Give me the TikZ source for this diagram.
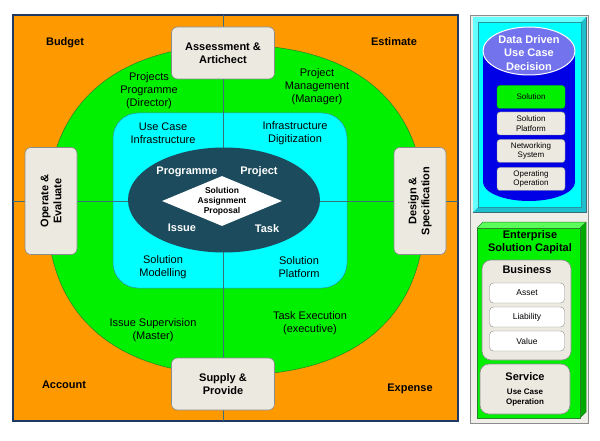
\documentclass[tikz,border=0pt]{standalone}
\usepackage{fontspec}
\setmainfont{Liberation Sans}
\usetikzlibrary{shapes.geometric}
\definecolor{orangebg}{RGB}{255,153,0}
\definecolor{greenbg}{RGB}{0,240,0}
\definecolor{greenline}{RGB}{40,130,40}
\definecolor{cyanbg}{RGB}{0,255,255}
\definecolor{cyanline}{RGB}{40,150,160}
\definecolor{coreteal}{RGB}{27,75,92}
\definecolor{divline}{RGB}{60,110,126}
\definecolor{frameblue}{RGB}{31,56,100}
\definecolor{boxfill}{RGB}{236,233,224}
\definecolor{boxborder}{RGB}{140,140,140}
\definecolor{panelbg}{RGB}{239,238,232}
\definecolor{cyandark}{RGB}{30,190,205}
\definecolor{blueb}{RGB}{0,0,230}
\definecolor{lavender}{RGB}{115,115,238}
\definecolor{greendark}{RGB}{0,170,0}
\definecolor{greenlight}{RGB}{90,255,90}
\begin{document}
\begin{tikzpicture}[x=1pt,y=-1pt,
  graybox/.style={draw=boxborder, fill=boxfill, rounded corners=6pt, line width=0.6pt,
    inner sep=2pt, align=center, font=\fontsize{11}{13}\selectfont\bfseries},
  lbl/.style={align=center, font=\fontsize{11}{13}\selectfont},
  blbl/.style={align=center, font=\fontsize{11}{13}\selectfont\bfseries},
  corelbl/.style={text=white, font=\fontsize{11}{13}\selectfont\bfseries},
  smallbox/.style={draw=boxborder, fill=boxfill, rounded corners=3pt, minimum width=68pt,
    minimum height=23pt, inner sep=1pt, align=center, font=\fontsize{8}{9.5}\selectfont},
  assetbox/.style={draw=boxborder, fill=white, rounded corners=4pt, minimum width=75pt,
    minimum height=20pt, inner sep=1pt, font=\fontsize{8.5}{10}\selectfont}]
\useasboundingbox (0,0) rectangle (600,441);
\fill[white] (0,0) rectangle (600,441);
% ---------- main square ----------
\draw[frameblue, fill=orangebg, line width=1.2pt] (13,15) rectangle (458,421);
% green ring
\draw[greenline, fill=greenbg, line width=0.5pt]
  (425,210) .. controls (425,104.4) and (357,45) .. (236,45)
  .. controls (115,45) and (47,104.4) .. (47,210)
  .. controls (47,315.6) and (115,375) .. (236,375)
  .. controls (357,375) and (425,315.6) .. (425,210) -- cycle;
% cyan rounded area
\draw[cyanline, fill=cyanbg, line width=0.5pt, rounded corners=25pt] (113,113) rectangle (347,288);
% divider lines
\coordinate (vt) at (223,15);
\coordinate (vb) at (223,421);
\coordinate (hl) at (13,201);
\coordinate (hr) at (458,201);
\draw[divline, line width=0.6pt] (vt) -- (vb);
\draw[divline, line width=0.6pt] (hl) -- (hr);
% core ellipse and diamond
\node[ellipse, fill=coreteal, minimum width=192pt, minimum height=105pt, inner sep=0pt] (core) at (224,200) {};
\node[diamond, fill=white, minimum width=120pt, minimum height=50pt, inner sep=0pt] (dia) at (222,201) {};
\node[align=center, font=\fontsize{8.5}{10}\selectfont\bfseries] (diatext) at (222,201) {Solution\\Assignment\\Proposal};
\node[corelbl] (prog) at (187,172) {Programme};
\node[corelbl] (proj) at (259,172) {Project};
\node[corelbl] (issue) at (182,228) {Issue};
\node[corelbl] (task) at (267,229) {Task};
% cyan labels
\node[lbl] (uci) at (163,133) {Use Case\\Infrastructure};
\node[lbl] (infd) at (295,133) {Infrastructure\\Digitization};
\node[lbl] (smod) at (163,267) {Solution\\Modelling};
\node[lbl] (splat) at (299,267) {Solution\\Platform};
% green labels
\node[lbl] (ppd) at (149,91) {Projects\\Programme\\(Director)};
\node[lbl] (pmm) at (317,87) {Project\\Management\\(Manager)};
\node[lbl] (ism) at (153,330) {Issue Supervision\\(Master)};
\node[lbl] (tee) at (310,323) {Task Execution\\(executive)};
% corner labels
\node[blbl] (budget) at (65,43) {Budget};
\node[blbl] (estimate) at (394,42) {Estimate};
\node[blbl] (account) at (64,385) {Account};
\node[blbl] (expense) at (410,389) {Expense};
% gray boxes
\node[graybox, minimum width=103pt, minimum height=52pt] (assess) at (223,53) {Assessment \&\\Artichect};
\node[graybox, minimum width=103pt, minimum height=52pt] (supply) at (223,384) {Supply \&\\Provide};
\node[graybox, minimum width=107pt, minimum height=52pt, rotate=90] (operate) at (51,201) {Operate \&\\Evaluate};
\node[graybox, minimum width=107pt, minimum height=52pt, rotate=90] (design) at (420,201) {Design \&\\Specification};
% ---------- right panel ----------
\draw[boxborder, fill=panelbg, line width=0.6pt] (470,15) rectangle (588,423);
% cyan bevel box
\draw[divline, fill=cyandark, line width=0.5pt] (473,17) rectangle (586,212);
\fill[cyanbg!60!white] (473,17) -- (586,17) -- (581,22) -- (478,22) -- (478,207) -- (473,212) -- cycle;
\draw[cyanline, fill=cyanbg, line width=0.4pt] (478,22) rectangle (581,207);
% blue drum
\fill[blueb] (483,51) rectangle (575,182);
\node[ellipse, fill=blueb, minimum width=92pt, minimum height=38pt, inner sep=0pt] (drumbase) at (529,182) {};
\node[ellipse, fill=lavender, draw=white, line width=1pt, minimum width=92pt, minimum height=48pt, inner sep=0pt] (drumtop) at (529,51) {};
\node[align=center, text=white, font=\fontsize{11}{13.3}\selectfont\bfseries] (ddtext) at (529,53) {Data Driven\\Use Case\\Decision};
\node[smallbox, fill=greenbg, draw=greendark] (sol) at (531,97) {Solution};
\node[smallbox] (solplat) at (531,123.5) {Solution\\Platform};
\node[smallbox] (netsys) at (531,151) {Networking\\System};
\node[smallbox] (opop) at (531,179) {Operating\\Operation};
% green 3D box
\fill[greenlight] (477,228) -- (483,222) -- (586,222) -- (580,228) -- cycle;
\fill[greendark] (580,228) -- (586,222) -- (586,412) -- (580,418) -- cycle;
\draw[greenline, line width=0.5pt] (477,228) -- (483,222) -- (586,222) -- (586,412) -- (580,418);
\draw[greenline, fill=greenbg, line width=0.5pt] (477,228) rectangle (580,418);
\draw[greenline, line width=0.5pt] (580,228) -- (586,222);
\node[blbl] (esc) at (530,242) {Enterprise\\Solution Capital};
\draw[boxborder, fill=boxfill, line width=0.6pt, rounded corners=9pt] (482,260) rectangle (571,360);
\node[blbl] (business) at (527,270) {Business};
\node[assetbox] (asset) at (527,293) {Asset};
\node[assetbox] (liab) at (527,317) {Liability};
\node[assetbox] (value) at (527,341) {Value};
\draw[boxborder, fill=boxfill, line width=0.6pt, rounded corners=9pt] (480,364) rectangle (570,414);
\node[blbl] (service) at (525,377) {Service};
\node[align=center, font=\fontsize{8}{10}\selectfont\bfseries] (ucop) at (525,398) {Use Case\\Operation};
\end{tikzpicture}
\end{document}
